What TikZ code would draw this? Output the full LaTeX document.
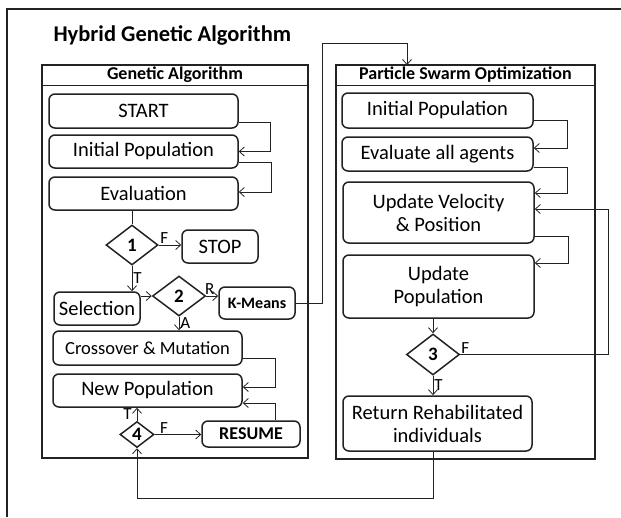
\documentclass[tikz,border=0pt]{standalone}
\usepackage{fontspec}
\setmainfont{Carlito}
\usetikzlibrary{arrows.meta, positioning, shapes.geometric, calc}

\definecolor{inkgray}{RGB}{34,34,34}

\tikzset{
  panel/.style={draw=inkgray, line width=1.6pt, inner sep=0pt},
  stepbox/.style={draw=inkgray, line width=1.5pt, rounded corners=6pt, inner sep=0pt,
                  align=center, font=\fontsize{20.5}{23}\selectfont},
  cond/.style={draw=inkgray, diamond, line width=1.5pt, inner sep=0pt,
               font=\fontsize{19}{20}\selectfont\bfseries},
  link/.style={draw=inkgray, line width=0.8pt, -{Straight Barb[length=5pt, width=9pt]}},
  tag/.style={font=\fontsize{17}{18}\selectfont, inner sep=1pt},
}

\begin{document}
\begin{tikzpicture}[x=1pt, y=-1pt]
  \useasboundingbox (0,0) rectangle (621,517);

  % Outer frame (only top and left visible)
  \draw[inkgray, line width=1.8pt] (7,517) -- (7,9) -- (621,9);

  % Title
  \node[anchor=west, font=\fontsize{22.5}{24}\selectfont\bfseries] (title) at (50,35) {Hybrid Genetic Algorithm};

  % Panels
  \node[panel, minimum width=266pt, minimum height=393pt] (gaPanel) at (175,261.5) {};
  \node[panel, minimum width=259pt, minimum height=394pt] (psoPanel) at (465.5,262) {};
  \draw[inkgray, line width=1.2pt] ($(gaPanel.north west)+(0,21)$) -- ($(gaPanel.north east)+(0,21)$);
  \draw[inkgray, line width=1.2pt] ($(psoPanel.north west)+(0,21)$) -- ($(psoPanel.north east)+(0,21)$);
  \node[font=\fontsize{18}{20}\selectfont\bfseries] (gaHead) at ($(gaPanel.north)+(0,10.5)$) {Genetic Algorithm};
  \node[font=\fontsize{18}{20}\selectfont\bfseries] (psoHead) at ($(psoPanel.north)+(0,10.5)$) {Particle Swarm Optimization};

  % Genetic Algorithm steps
  \node[stepbox, minimum width=189pt, minimum height=34pt] (start) at (143.5,111) {START};
  \node[stepbox, minimum width=189pt, minimum height=33pt] (gaInit) at (143.5,151.5) {Initial Population};
  \node[stepbox, minimum width=189pt, minimum height=33pt] (evalu) at (143.5,193.5) {Evaluation};
  \node[cond, minimum width=52pt, minimum height=40pt] (d1) at (132,245) {1};
  \node[stepbox, minimum width=76pt, minimum height=33pt] (stop) at (220,246.5) {STOP};
  \node[stepbox, minimum width=86pt, minimum height=33pt] (sel) at (97,308.5) {Selection};
  \node[cond, minimum width=53pt, minimum height=40pt] (d2) at (179,296) {2};
  \node[stepbox, minimum width=76pt, minimum height=32pt, font=\fontsize{16}{18}\selectfont\bfseries] (kmeans) at (257,303) {K-Means};
  \node[stepbox, minimum width=189pt, minimum height=34pt, font=\fontsize{18.5}{20}\selectfont] (cross) at (147.5,348) {Crossover \& Mutation};
  \node[stepbox, minimum width=189pt, minimum height=33pt] (newpop) at (147.5,390.5) {New Population};
  \node[cond, minimum width=34pt, minimum height=26pt] (d4) at (137,434.5) {4};
  \node[stepbox, minimum width=98pt, minimum height=26pt, font=\fontsize{18}{20}\selectfont\bfseries] (resume) at (251,434) {RESUME};

  % Particle Swarm Optimization steps
  \node[stepbox, minimum width=191pt, minimum height=35pt] (psoInit) at (437.5,110.5) {Initial Population};
  \node[stepbox, minimum width=191pt, minimum height=34pt] (evalAll) at (437.5,154) {Evaluate all agents};
  \node[stepbox, minimum width=191pt, minimum height=61pt] (upVel) at (438.5,212.5) {Update Velocity\\\& Position};
  \node[stepbox, minimum width=191pt, minimum height=63pt] (upPop) at (438.5,286.5) {Update\\Population};
  \node[cond, minimum width=53pt, minimum height=41pt] (d3) at (433,354.5) {3};
  \node[stepbox, minimum width=189pt, minimum height=55pt] (ret) at (437.5,423.5) {Return Rehabilitated\\individuals};
  \coordinate (psoIn) at (407,65);

  % GA connectors
  \draw[link] ($(start.east)+(0,11)$) -- ++(32,0) |- (gaInit.east);
  \draw[link] ($(gaInit.east)+(0,11)$) -- ++(33,0) |- ($(evalu.east)+(0,-1.5)$);
  \draw[inkgray, line width=0.8pt] (d1.north |- evalu.south) -- (d1.north);
  \draw[link] (d1.east) -- (stop.west |- d1.east) node[tag, pos=0.25, above] {F};
  \draw[link] (d1.south) -- (d1.south |- sel.north) node[tag, midway, right] {T};
  \draw[link] (sel.east |- d2.west) -- (d2.west);
  \draw[link] (d2.east) -- (kmeans.west |- d2.east) node[tag, pos=0.3, above] {R};
  \draw[link] (d2.south) -- (d2.south |- cross.north) node[tag, midway, right] {A};
  \draw[link] (kmeans.east) -- ++(27,0) |- ($(psoIn)+(0,-22)$) -- (psoIn);
  \draw[link] ($(cross.east)+(0,10)$) -- ++(33,0) |- ($(newpop.east)+(0,-3.5)$);
  \draw[link] ($(resume.north)+(24,0)$) |- ($(newpop.east)+(0,12.5)$);
  \draw[link] (d4.north) -- (d4.north |- newpop.south) node[tag, midway, left=4pt] {T};
  \draw[link] (d4.east) -- (resume.west |- d4.east) node[tag, pos=0.2, above] {F};

  % PSO connectors
  \draw[link] ($(psoInit.east)+(0,9.5)$) -- ++(34,0) |- ($(evalAll.east)+(0,-6)$);
  \draw[link] ($(evalAll.east)+(0,13)$) -- ++(34,0) |- ($(upVel.east)+(0,-19.5)$);
  \draw[link] ($(upVel.east)+(0,23.5)$) -- ++(34,0) |- ($(upPop.east)+(0,-23.5)$);
  \draw[link] (upPop.south -| d3) -- (d3.north);
  \draw[link] (d3.east) -- ++(148,0) |- ($(upVel.east)+(0,-3.5)$);
  \node[tag, above right] (d3F) at (d3.east) {F};
  \draw[link] (d3.south) -- (d3.south |- ret.north) node[tag, midway, right] {T};
  \draw[link] (ret.south -| d3) -- ++(0,47) -| (d4.south);
\end{tikzpicture}
\end{document}
